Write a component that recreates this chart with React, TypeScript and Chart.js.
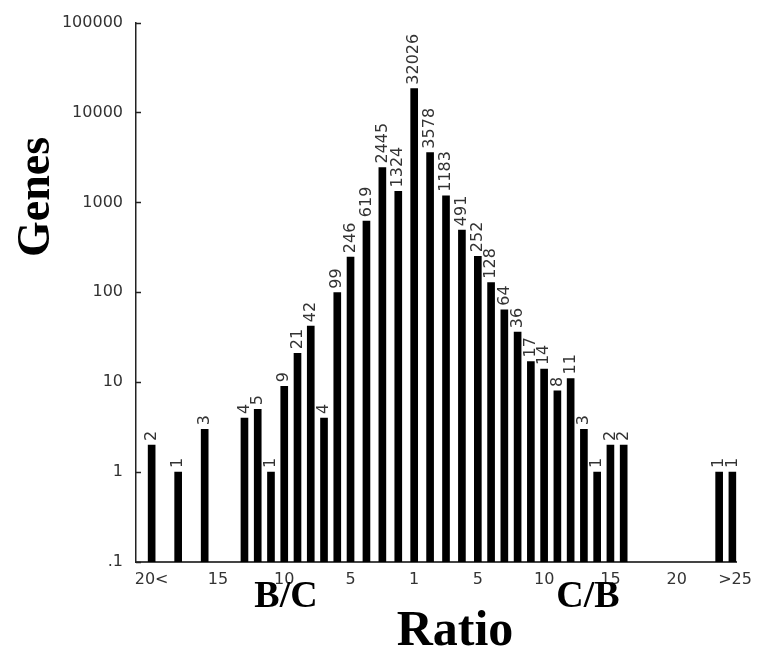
import React, { useEffect, useRef } from "react";
import { Chart, registerables } from "chart.js";

Chart.register(...registerables);

// B/C side (left), ratio bins
const leftRatios = [20, 18, 16, 13, 12, 11, 10, 9, 8, 7, 6, 5, 4, 3, 2];
const leftCounts = [2, 1, 3, 4, 5, 1, 9, 21, 42, 4, 99, 246, 619, 2445, 1324];
// centre bin (ratio 1)
const centerRatio = 1;
const centerCount = 32026;
const centerDrawnHeight = 18400; // height of the bar as drawn in the figure
// C/B side (right)
const rightRatios = [2, 3, 4, 5, 6, 7, 8, 9, 10, 11, 12, 13, 14, 15, 16];
const rightCounts = [3578, 1183, 491, 252, 128, 64, 36, 17, 14, 8, 11, 3, 1, 2, 2];
// ">25" bins
const overRatios = [23.2, 24.2];
const overCounts = [1, 1];

// axis ticks
const xTickLabels = ["20<", "15", "10", "5", "1", "5", "10", "15", "20", ">25"];
const xTickSides = [-1, -1, -1, -1, 0, 1, 1, 1, 1, 1];
const xTickRatios = [20, 15, 10, 5, 1, 5, 10, 15, 20, 24.4];
const yTickValues = [0.1, 1, 10, 100, 1000, 10000, 100000];
const yTickLabels = [".1", "1", "10", "100", "1000", "10000", "100000"];

// broken ratio axis: ratios 1..5 are drawn wider than the rest
const INNER_STRETCH = 1.2;
function ratioPos(side: number, r: number): number {
  const d = r <= 5 ? (r - 1) * INNER_STRETCH : 4 * INNER_STRETCH + (r - 5);
  return side * d;
}

const SANS = "'DejaVu Sans', sans-serif";
const SERIF = "'Liberation Serif', 'Times New Roman', serif";

export default function App() {
  const ref = useRef<HTMLCanvasElement | null>(null);

  useEffect(() => {
    const canvas = ref.current;
    if (!canvas) return;

    type Pt = { x: number; y: number; label: string };
    const points: Pt[] = [];
    leftRatios.forEach((r, i) =>
      points.push({ x: ratioPos(-1, r), y: leftCounts[i], label: String(leftCounts[i]) })
    );
    points.push({ x: ratioPos(0, centerRatio), y: centerDrawnHeight, label: String(centerCount) });
    rightRatios.forEach((r, i) =>
      points.push({ x: ratioPos(1, r), y: rightCounts[i], label: String(rightCounts[i]) })
    );
    overRatios.forEach((r, i) =>
      points.push({ x: ratioPos(1, r), y: overCounts[i], label: String(overCounts[i]) })
    );

    const xTickPos = xTickRatios.map((r, i) => ratioPos(xTickSides[i], r));

    const labelPlugin = {
      id: "barLabels",
      afterDatasetsDraw(chart: any) {
        const ctx = chart.ctx;
        const meta = chart.getDatasetMeta(0);
        ctx.save();
        ctx.fillStyle = "#333";
        ctx.font = `16px ${SANS}`;
        ctx.textAlign = "left";
        ctx.textBaseline = "middle";
        meta.data.forEach((el: any, i: number) => {
          ctx.save();
          ctx.translate(el.x, el.y - 4);
          ctx.rotate(-Math.PI / 2);
          ctx.fillText(points[i].label, 0, 0);
          ctx.restore();
        });
        ctx.restore();
      },
    };

    const decorPlugin = {
      id: "decor",
      afterDraw(chart: any) {
        const ctx = chart.ctx;
        const y = chart.scales.y;
        const area = chart.chartArea;
        ctx.save();
        ctx.strokeStyle = "#222";
        ctx.lineWidth = 1.5;
        yTickValues.forEach((v) => {
          const py = Math.round(y.getPixelForValue(v)) + 0.5;
          ctx.beginPath();
          ctx.moveTo(area.left, py);
          ctx.lineTo(area.left + 5, py);
          ctx.stroke();
        });
        ctx.fillStyle = "#000";
        ctx.textAlign = "center";
        ctx.textBaseline = "middle";
        ctx.save();
        ctx.translate(37, 197);
        ctx.rotate(-Math.PI / 2);
        ctx.font = `bold 46px ${SERIF}`;
        ctx.fillText("Genes", 0, 0);
        ctx.restore();
        ctx.font = `bold 38px ${SERIF}`;
        ctx.fillText("B/C", 286, 597);
        ctx.fillText("C/B", 588, 597);
        ctx.font = `bold 50px ${SERIF}`;
        ctx.fillText("Ratio", 455, 632);
        ctx.restore();
      },
    };

    const chart = new Chart(canvas, {
      type: "bar",
      data: {
        datasets: [
          {
            data: points.map((p) => ({ x: p.x, y: p.y })),
            backgroundColor: "#000",
            borderWidth: 0,
            barThickness: 7,
          },
        ],
      },
      options: {
        animation: false,
        responsive: false,
        maintainAspectRatio: false,
        layout: { padding: { left: 0, right: 20, top: 22, bottom: 0 } },
        plugins: { legend: { display: false }, tooltip: { enabled: false } },
        scales: {
          x: {
            type: "linear",
            offset: false,
            min: -20.98,
            max: 24.32,
            grid: { display: false, drawTicks: false, offset: false },
            border: { display: true, color: "#444", width: 2 },
            afterBuildTicks: (scale: any) => {
              scale.ticks = xTickPos.map((v) => ({ value: v }));
            },
            afterFit: (scale: any) => {
              scale.height = 91;
            },
            ticks: {
              autoSkip: false,
              maxRotation: 0,
              padding: 8,
              color: "#333",
              font: { family: SANS, size: 16 },
              callback: (_v: any, i: number) => xTickLabels[i],
            },
          },
          y: {
            type: "logarithmic",
            min: 0.1,
            max: 100000,
            grid: { display: false, drawTicks: false },
            border: { display: true, color: "#222", width: 1.5 },
            afterBuildTicks: (scale: any) => {
              scale.ticks = yTickValues.map((v) => ({ value: v }));
            },
            afterFit: (scale: any) => {
              scale.width = 136;
            },
            ticks: {
              autoSkip: false,
              padding: 13,
              color: "#333",
              font: { family: SANS, size: 16 },
              callback: (_v: any, i: number) => yTickLabels[i],
            },
          },
        },
      },
      plugins: [labelPlugin, decorPlugin],
    });

    return () => chart.destroy();
  }, []);

  return (
    <div style={{ position: "fixed", left: 0, top: 0, width: 760, height: 653, background: "#fff" }}>
      <canvas ref={ref} width={760} height={653} style={{ width: 760, height: 653, display: "block" }} />
    </div>
  );
}
